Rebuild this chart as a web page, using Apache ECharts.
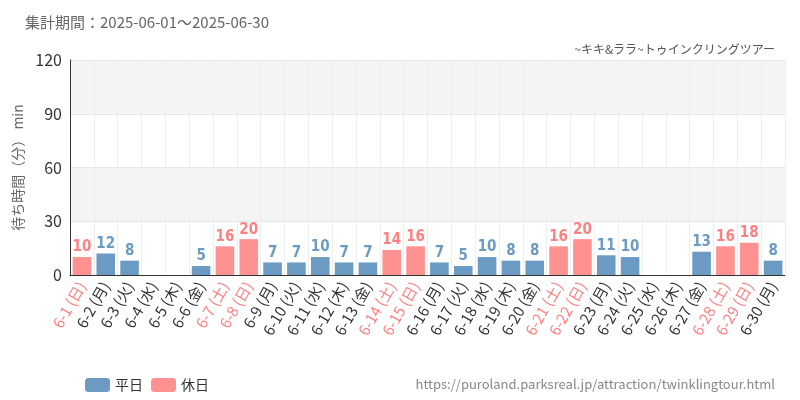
<!DOCTYPE html><html><head><meta charset="utf-8"><script src="https://cdn.jsdelivr.net/npm/echarts@6/dist/echarts.min.js"></script></head><body style="margin:0"><div id="c" style="width:800px;height:400px"></div><script>
const days=['日','月','火','水','木','金','土','日','月','火','水','木','金','土','日','月','火','水','木','金','土','日','月','火','水','木','金','土','日','月'];
const categories=days.map((d,i)=>'6-'+(i+1)+' ('+d+')');
const holidayIdx=[0,6,7,13,14,20,21,27,28];
const weekdayValues=[null,12,8,null,null,5,null,null,7,7,10,7,7,null,null,7,5,10,8,8,null,null,11,10,null,null,13,null,null,8];
const holidayValues=[10,null,null,null,null,null,16,20,null,null,null,null,null,14,16,null,null,null,null,null,16,20,null,null,null,null,null,16,18,null];
const yTicks=[0,30,60,90,120];
const ff='"Noto Sans CJK JP","Noto Sans",sans-serif';
const ch=echarts.init(document.getElementById('c'));
const lbl=(c)=>({show:true,position:'top',color:c,fontSize:15,fontFamily:'"DejaVu Sans Condensed",sans-serif',fontWeight:'bold',distance:2});
ch.setOption({
 animation:false,
 title:[{text:'集計期間：2025-06-01～2025-06-30',left:20,top:10,textStyle:{fontSize:15,fontWeight:'normal',color:'#666',fontFamily:ff}},
  {text:'~キキ&ララ~トゥインクリングツアー',right:20,top:38,textStyle:{fontSize:12,fontWeight:'normal',color:'#555',fontFamily:ff}},
  {text:'https://puroland.parksreal.jp/attraction/twinklingtour.html',right:20,top:373,textStyle:{fontSize:13,fontWeight:'normal',color:'#888',fontFamily:ff}}],
 legend:{left:80,top:373,itemWidth:25,itemHeight:14,textStyle:{fontSize:14,color:'#333',fontFamily:ff},data:['平日','休日']},
 grid:{left:70,right:15,top:60,bottom:125},
 xAxis:{type:'category',data:categories,axisTick:{show:false},axisLine:{lineStyle:{color:'#333'}},
  splitLine:{show:true,lineStyle:{color:'#eee'}},
  axisLabel:{rotate:60,interval:0,fontSize:15,fontFamily:ff,color:(v,i)=>holidayIdx.includes(i)?'#ff7f7f':'#333'}},
 yAxis:{type:'value',min:0,max:120,interval:30,name:'待ち時間（分） min',nameLocation:'middle',nameGap:45,nameTextStyle:{fontSize:14,color:'#666',fontFamily:ff},
  axisLabel:{fontSize:16,color:'#333',fontFamily:ff},axisLine:{show:true,lineStyle:{color:'#333'}},
  splitLine:{lineStyle:{color:'#e6e6e6'}},splitArea:{show:true,areaStyle:{color:['#fff','#f4f4f4']}}},
 series:[{name:'平日',type:'bar',stack:'a',data:weekdayValues,barWidth:'78%',itemStyle:{color:'#6b9bc3'},label:lbl('#6b9bc3')},
  {name:'休日',type:'bar',stack:'a',data:holidayValues,itemStyle:{color:'#ff9191'},label:lbl('#ff8080')}]
});
</script></body></html>
